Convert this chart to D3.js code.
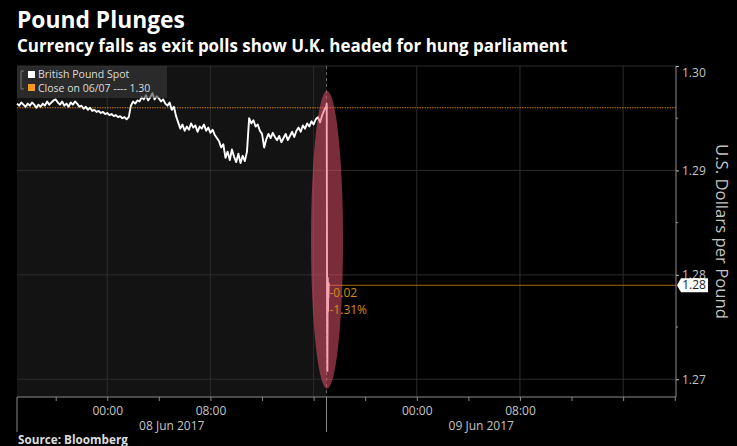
<!DOCTYPE html>
<html>
<head>
<meta charset="utf-8">
<script src="https://cdn.jsdelivr.net/npm/d3@7"></script>
<style>
  body { margin: 0; background: #000; }
  svg { display: block; font-family: "Open Sans", "DejaVu Sans", sans-serif; }
</style>
</head>
<body>
<svg id="chart" width="737" height="446"></svg>
<script>
// Data
const startTime = new Date(2017, 5, 7, 17, 0);   // first point, 10 min apart
const stepMinutes = 10;
const spotValues = [
  1.2964, 1.2962, 1.2965, 1.2963, 1.2961, 1.2964, 1.2962, 1.2965, 1.2963, 1.2960, 1.2963, 1.2961,
  1.2964, 1.2962, 1.2966, 1.2963, 1.2965, 1.2967, 1.2968, 1.2965, 1.2963, 1.2966, 1.2962, 1.2964,
  1.2961, 1.2965, 1.2963, 1.2966, 1.2964, 1.2961, 1.2962, 1.2959, 1.2961, 1.2958, 1.2960, 1.2957,
  1.2958, 1.2956, 1.2957, 1.2955, 1.2956, 1.2954, 1.2955, 1.2953, 1.2954, 1.2952, 1.2953, 1.2951,
  1.2952, 1.2950, 1.2951, 1.2949, 1.2951, 1.2962, 1.2966, 1.2964, 1.2967, 1.2966, 1.2970, 1.2968,
  1.2972, 1.2967, 1.2970, 1.2974, 1.2968, 1.2971, 1.2969, 1.2966, 1.2968, 1.2964, 1.2962, 1.2965,
  1.2958, 1.2961, 1.2952, 1.2946, 1.2940, 1.2944, 1.2938, 1.2942, 1.2939, 1.2945, 1.2941, 1.2943,
  1.2937, 1.2942, 1.2940, 1.2944, 1.2938, 1.2941, 1.2936, 1.2939, 1.2934, 1.2931, 1.2928, 1.2922,
  1.2925, 1.2912, 1.2918, 1.2910, 1.2920, 1.2913, 1.2908, 1.2916, 1.2907, 1.2914, 1.2909, 1.2918,
  1.2950, 1.2945, 1.2948, 1.2942, 1.2944, 1.2938, 1.2935, 1.2922, 1.2930, 1.2935, 1.2931, 1.2936,
  1.2932, 1.2929, 1.2933, 1.2927, 1.2931, 1.2935, 1.2929, 1.2933, 1.2937, 1.2932, 1.2938, 1.2941,
  1.2937, 1.2943, 1.2940, 1.2945, 1.2942, 1.2947, 1.2944, 1.2949, 1.2951, 1.2946, 1.2953, 1.2958,
  1.2962
];
// minutes after the exit poll (17:00 on 08 Jun)
const exitPollTime = new Date(2017, 5, 8, 17, 0);
const tailMinutes = [1, 2, 3, 4, 5, 6, 7, 8, 9, 10, 11];
const tailValues = [1.2964, 1.2850, 1.2745, 1.2708, 1.2772, 1.2797, 1.2765, 1.2790, 1.2778, 1.2792, 1.2790];
const closeValue = 1.2960;
const yTicks = [1.27, 1.28, 1.29, 1.30];
const yMinorTicks = [1.275, 1.285, 1.295];

// Set the dimensions
const plotLeft = 17, plotRight = 676, plotTop = 66, plotBottom = 397;
const textColor = "#c4c4c4", gridColor = "#2c2c2c", axisColor = "#8c8c8c";

const svg = d3.select("#chart");

const x = d3.scaleTime()
    .domain([startTime, new Date(2017, 5, 9, 20, 6)])
    .range([plotLeft, plotRight]);

const y = d3.scaleLinear()
    .domain([1.2683, 1.30])
    .range([plotBottom, plotTop]);

const series = spotValues.map((v, i) => ({ t: d3.timeMinute.offset(startTime, i * stepMinutes), v: v }))
    .concat(tailValues.map((v, i) => ({ t: d3.timeMinute.offset(exitPollTime, tailMinutes[i]), v: v })));
const lastValue = tailValues[tailValues.length - 1];

const fmt2 = v => d3.format(".2f")(v).replace("\u2212", "-");

// shrink/grow a text to a target width
function fit(sel, width) {
    const len = sel.node().getComputedTextLength();
    const size = parseFloat(sel.attr("font-size"));
    sel.attr("font-size", size * width / len);
}

// Titles
svg.append("text").attr("x", 17).attr("y", 28).attr("font-size", 22).attr("font-weight", "bold")
    .attr("fill", "#fff").text("Pound Plunges").call(fit, 168);
svg.append("text").attr("x", 17).attr("y", 52).attr("font-size", 15).attr("font-weight", "bold")
    .attr("fill", "#fff").text("Currency falls as exit polls show U.K. headed for hung parliament").call(fit, 551);
svg.append("text").attr("x", 18).attr("y", 444).attr("font-size", 11).attr("font-weight", "bold")
    .attr("fill", "#ddd").text("Source: Bloomberg").call(fit, 110);

// History background
svg.append("rect")
    .attr("x", plotLeft).attr("y", plotTop)
    .attr("width", x(exitPollTime) - plotLeft).attr("height", plotBottom - plotTop)
    .attr("fill", "#131313");

// Grid
svg.append("g").selectAll("line")
    .data(yTicks)
    .join("line")
    .attr("x1", plotLeft).attr("x2", plotRight)
    .attr("y1", d => y(d)).attr("y2", d => y(d))
    .attr("stroke", gridColor);

const hours8 = d3.timeHour.every(8).range(x.domain()[0], x.domain()[1]);
svg.append("g").selectAll("line")
    .data(hours8)
    .join("line")
    .attr("x1", d => x(d)).attr("x2", d => x(d))
    .attr("y1", plotTop).attr("y2", plotBottom)
    .attr("stroke", gridColor);

// Exit poll marker
svg.append("line")
    .attr("x1", x(exitPollTime)).attr("x2", x(exitPollTime))
    .attr("y1", plotTop).attr("y2", plotBottom)
    .attr("stroke", "#666").attr("stroke-dasharray", "3,3");

// Close line and last price line
svg.append("line")
    .attr("x1", plotLeft).attr("x2", plotRight)
    .attr("y1", y(closeValue)).attr("y2", y(closeValue))
    .attr("stroke", "#c7780f").attr("stroke-width", 1.2).attr("stroke-dasharray", "1.5,1");
svg.append("line")
    .attr("x1", x(exitPollTime)).attr("x2", plotRight)
    .attr("y1", y(lastValue)).attr("y2", y(lastValue))
    .attr("stroke", "#a8680c").attr("stroke-width", 1.2);

// The spot line
const line = d3.line().x(d => x(d.t)).y(d => y(d.v));
svg.append("path")
    .datum(series)
    .attr("d", line)
    .attr("fill", "none")
    .attr("stroke", "#fff")
    .attr("stroke-width", 1.9)
    .attr("stroke-linejoin", "round");

// Red highlight ellipse
svg.append("ellipse")
    .attr("cx", x(exitPollTime) + 0.5)
    .attr("cy", (y(1.2976) + y(1.2691)) / 2)
    .attr("rx", 16)
    .attr("ry", (y(1.2691) - y(1.2976)) / 2)
    .attr("fill", "rgba(236, 84, 112, 0.52)");

// Change annotation
const change = lastValue - closeValue;
const ann = svg.append("g").attr("fill", "#d58a1c").attr("font-size", 12);
ann.append("text").attr("x", x(exitPollTime) + 3).attr("y", y(lastValue) + 12)
    .text(fmt2(change));
ann.append("text").attr("x", x(exitPollTime) + 3).attr("y", y(lastValue) + 29)
    .text(fmt2(change / closeValue * 100) + "%");

// Legend, drawn over the line
const legend = svg.append("g");
legend.append("rect").attr("x", plotLeft).attr("y", plotTop).attr("width", 150).attr("height", 32)
    .attr("fill", "rgba(58, 58, 58, 0.6)");
legend.append("path").attr("d", "M24,71 h-3 v18 h3").attr("fill", "none").attr("stroke", "#777");
legend.append("rect").attr("x", 28).attr("y", 71).attr("width", 7).attr("height", 7).attr("fill", "#fff");
legend.append("rect").attr("x", 28).attr("y", 84).attr("width", 7).attr("height", 7).attr("fill", "#f39a1e");
legend.append("text").attr("x", 38).attr("y", 78).attr("font-size", 10.5).attr("fill", "#ddd")
    .text("British Pound Spot");
legend.append("text").attr("x", 38).attr("y", 92).attr("font-size", 10.5).attr("fill", "#ddd")
    .text("Close on 06/07 ---- " + fmt2(closeValue));

// Right axis
const yAxis = svg.append("g")
    .attr("transform", `translate(${plotRight},0)`)
    .call(d3.axisRight(y).tickValues(yTicks).tickSize(3).tickPadding(3).tickFormat(fmt2));
yAxis.select(".domain").attr("stroke", axisColor).attr("d", `M0,${plotTop}V${plotBottom}`);
yAxis.selectAll(".tick line").attr("stroke", "#bbb");
yAxis.selectAll(".tick text").attr("fill", textColor).attr("font-size", 12)
    .attr("font-family", "\"Open Sans\", \"DejaVu Sans\", sans-serif")
    .attr("dy", d => d === 1.30 ? "0.85em" : "0.32em");
svg.append("g").selectAll("line")
    .data(yMinorTicks)
    .join("line")
    .attr("x1", plotRight).attr("x2", plotRight + 2)
    .attr("y1", d => y(d)).attr("y2", d => y(d))
    .attr("stroke", "#999");

svg.append("text")
    .attr("transform", `translate(716,${(plotTop + plotBottom) / 2}) rotate(90)`)
    .attr("text-anchor", "middle")
    .attr("font-size", 14)
    .attr("fill", textColor)
    .text("U.S. Dollars per Pound").call(fit, 175);

// Last price tag
const tagY = y(lastValue);
svg.append("path")
    .attr("d", `M${plotRight + 1},${tagY} L${plotRight + 5},${tagY - 7} H${plotRight + 32} V${tagY + 7} H${plotRight + 5} Z`)
    .attr("fill", "#fff");
svg.append("text")
    .attr("x", plotRight + 18).attr("y", tagY).attr("dy", "0.35em")
    .attr("text-anchor", "middle").attr("font-size", 12).attr("fill", "#222")
    .text(fmt2(lastValue));

// Bottom axis
const hours4 = d3.timeHour.every(4).range(x.domain()[0], x.domain()[1]);
const xAxis = svg.append("g")
    .attr("transform", `translate(0,${plotBottom})`)
    .call(d3.axisBottom(x).tickValues(hours4).tickSize(4).tickPadding(5)
        .tickFormat(d => (d.getHours() === 0 || d.getHours() === 8) ? d3.timeFormat("%H:%M")(d) : ""));
xAxis.select(".domain").attr("stroke", axisColor).attr("d", `M${plotLeft},0H${plotRight}`);
xAxis.selectAll(".tick line").attr("stroke", "#888");
xAxis.selectAll(".tick text").attr("fill", textColor).attr("font-size", 12)
    .attr("font-family", "\"Open Sans\", \"DejaVu Sans\", sans-serif");

// Day separators and date labels
const separators = [startTime, exitPollTime, d3.timeDay.offset(exitPollTime, 1)];
svg.append("g").selectAll("line")
    .data(separators.slice(0, 2))
    .join("line")
    .attr("x1", d => x(d)).attr("x2", d => x(d))
    .attr("y1", plotBottom).attr("y2", plotBottom + 35)
    .attr("stroke", "#888");
svg.append("g").selectAll("text")
    .data(d3.pairs(separators))
    .join("text")
    .attr("x", d => (x(d[0]) + x(d[1])) / 2)
    .attr("y", plotBottom + 33)
    .attr("text-anchor", "middle")
    .attr("font-size", 12)
    .attr("fill", textColor)
    .text(d => d3.timeFormat("%d %b %Y")(d3.timeHour.offset(d[0], 12)));
</script>
</body>
</html>
